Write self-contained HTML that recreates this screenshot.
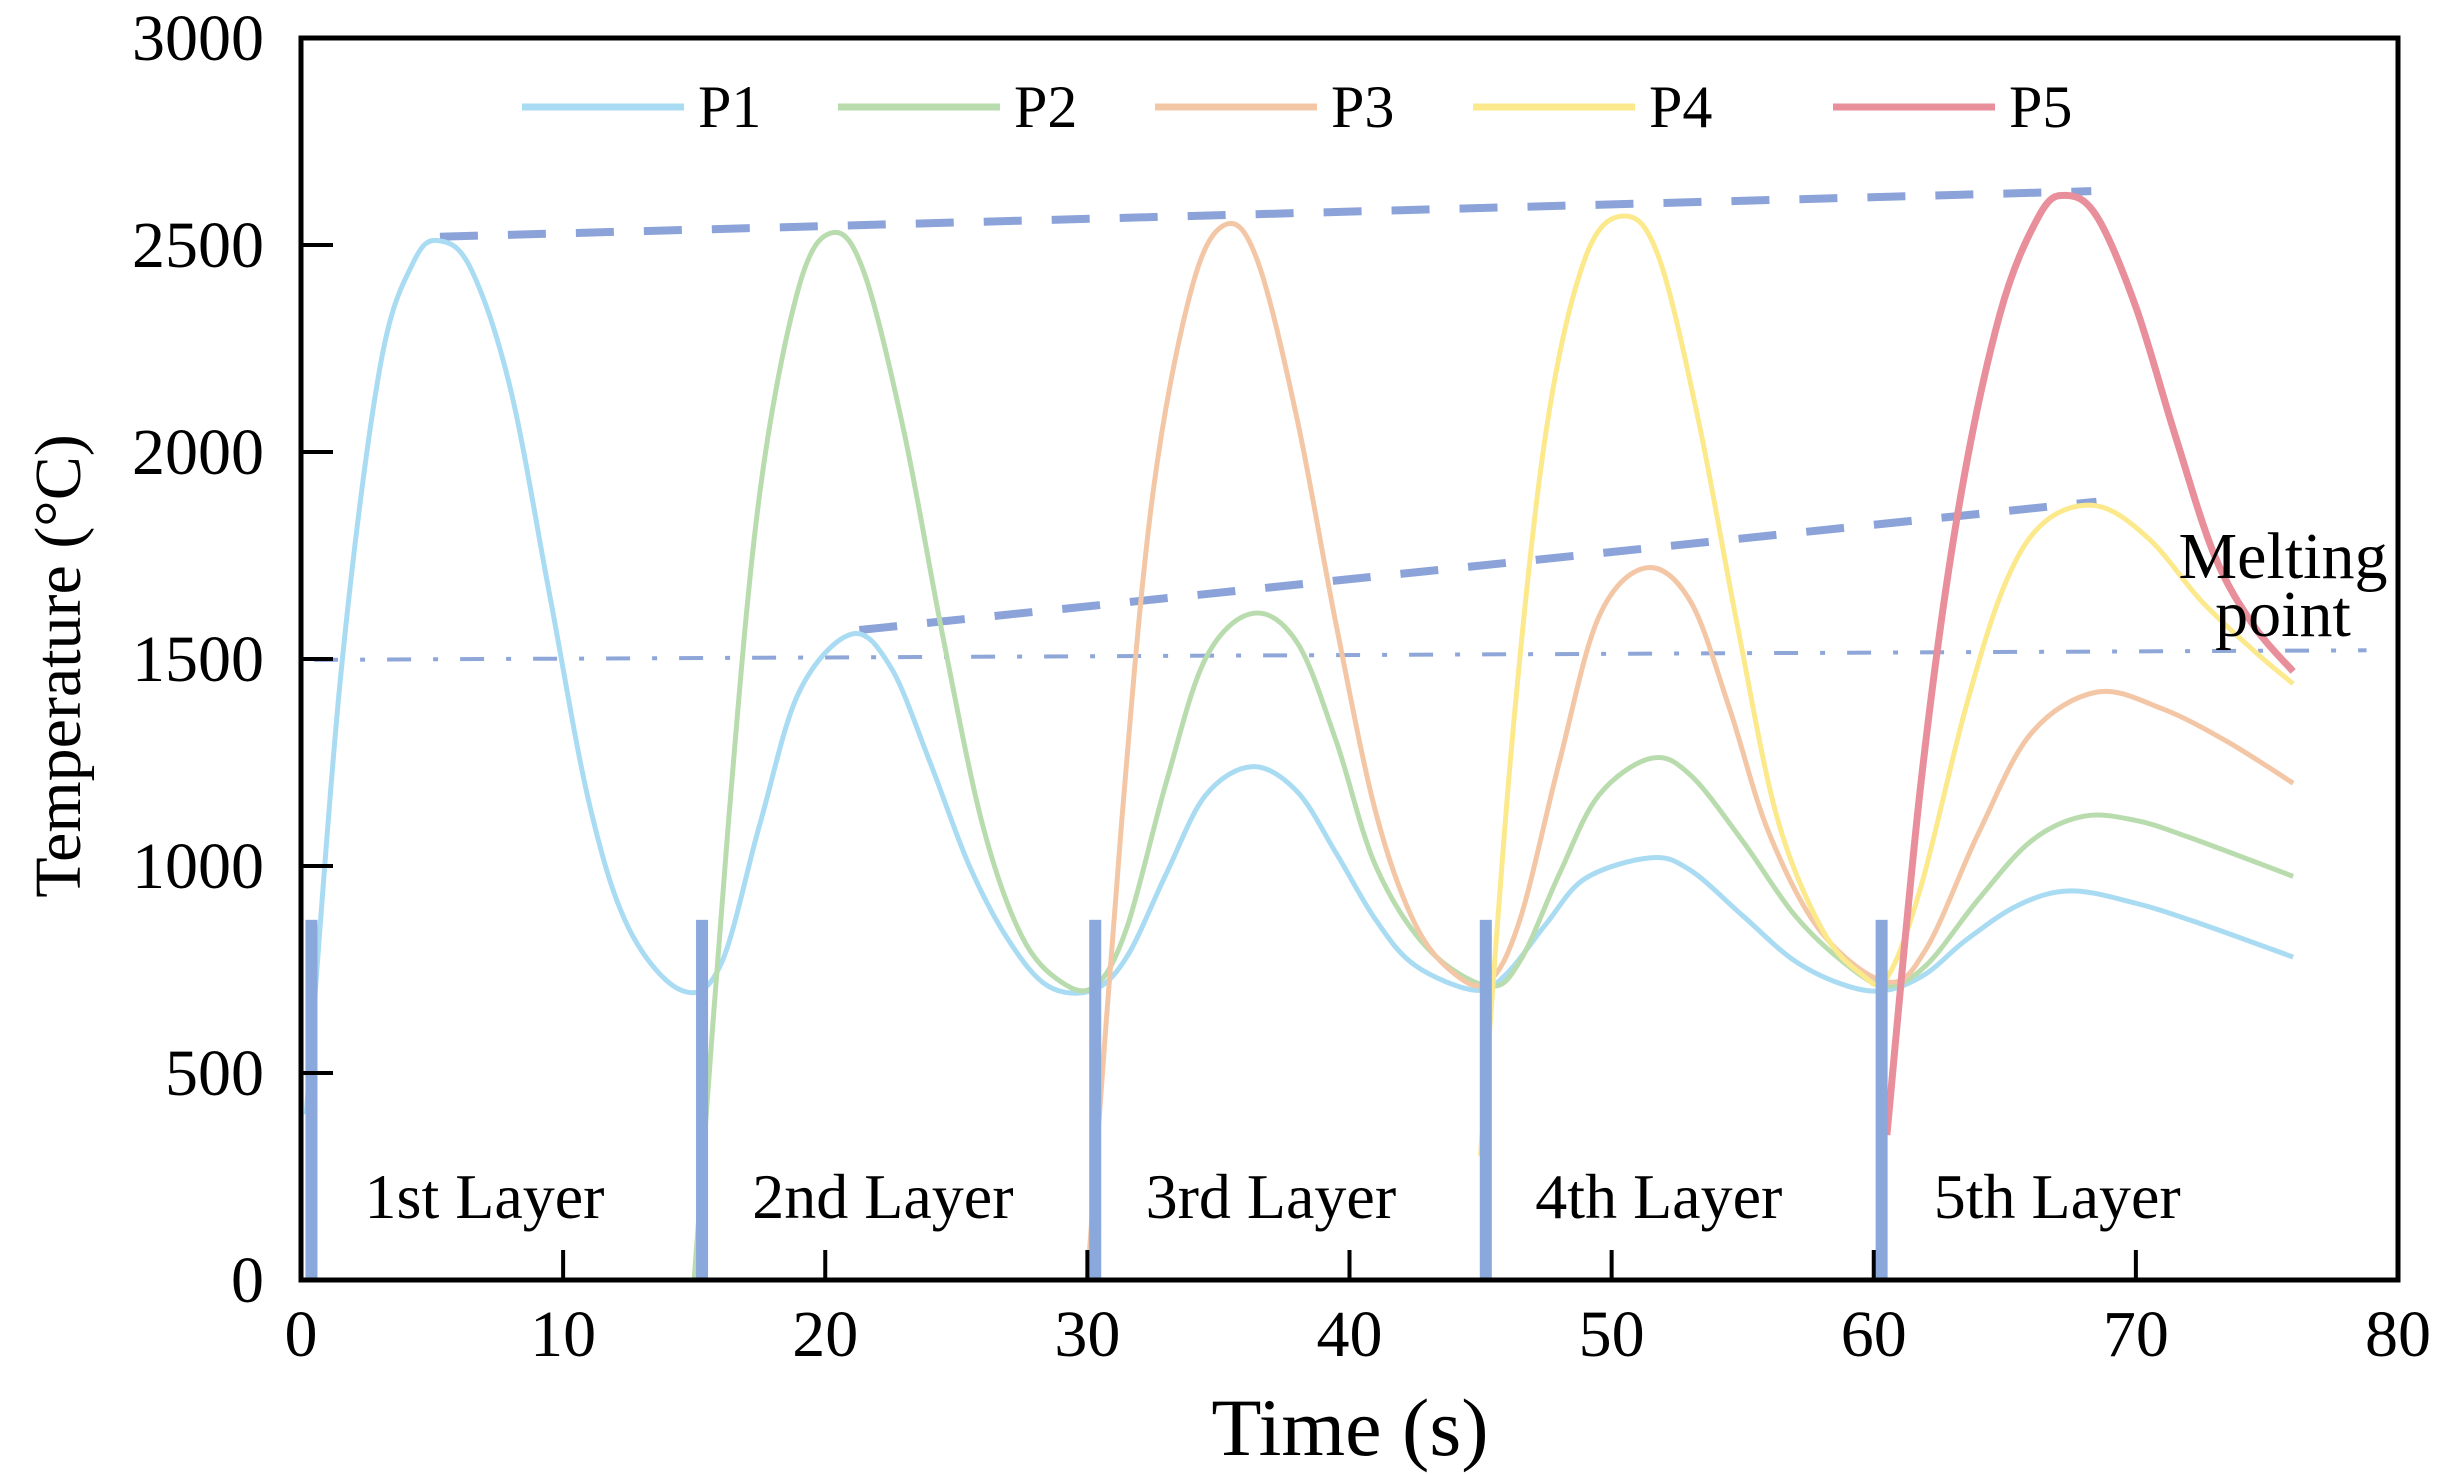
<!DOCTYPE html>
<html><head><meta charset="utf-8"><style>
html,body{margin:0;padding:0;background:#fff;}
svg{display:block;font-family:"Liberation Serif",serif;}
</style></head><body>
<svg id="chart" width="2451" height="1475" viewBox="0 0 2451 1475">
<g id="grid-layer"></g>
<g id="series-layer"></g>
<g id="axes-layer"></g>
</svg>
<script>
const xTicks=[0,10,20,30,40,50,60,70,80];
const yTicks=[0,500,1000,1500,2000,2500,3000];
const seriesNames=["P1","P2","P3","P4","P5"];
const seriesColors=["#a9dcf2","#b9dcae","#f3c7a6","#fbe98c","#e98f9c"];
const p1T=[0.2,1.5,3,4.3,5.3,6.5,8,9.5,11,12.5,14.5,16,17.5,19,21,22.5,24,25.5,27,28.5,30.2,31.5,33,34.5,36.3,38,39.5,41,42.5,44.8,46,47.5,49,51.5,53,55,57,59,60.5,62,63.5,65.5,67.5,70,72.5,76];
const p1V=[400,1450,2200,2460,2510,2440,2150,1650,1150,850,700,760,1100,1420,1560,1480,1250,1000,820,710,700,780,980,1170,1240,1180,1030,870,760,700,740,860,970,1020,990,880,770,710,700,740,820,905,940,910,860,780];
const p2T=[15,16.3,17.5,19,20.3,21.5,23,24.5,26,27.5,29,30.3,31.5,33,34.5,36.3,38,39.5,41,43,45.3,46.5,48,49.5,51.5,53,55,57,59,60.5,62,64,66,68,70,72,76];
const p2V=[0,1100,1900,2400,2530,2430,2050,1550,1100,830,720,710,850,1200,1500,1610,1540,1300,1000,800,710,770,980,1170,1260,1220,1060,880,760,710,760,920,1060,1120,1110,1070,975];
const p3T=[30,31.3,32.5,34,35.3,36.5,38,39.5,41,42.5,44,45.3,46.5,48,49.5,51.3,53,54.5,56,58,60.5,62,64,66,68.5,71,73.5,76];
const p3V=[0,1100,1900,2400,2550,2460,2080,1580,1130,860,740,720,870,1250,1600,1720,1640,1380,1080,840,720,800,1080,1320,1420,1380,1300,1200];
const p4T=[45,46.2,47.5,49,50.5,51.8,53.3,54.8,56.3,58,59.5,60.5,61.8,63.5,65,66.5,68.5,70.5,72.5,74.5,76];
const p4V=[300,1300,2050,2470,2570,2470,2080,1580,1120,850,740,730,950,1380,1680,1830,1870,1790,1640,1520,1440];
const p5T=[60.5,61.8,63.2,64.8,66.3,67.3,68.5,70,71.5,73,74.5,76];
const p5V=[350,1200,1850,2330,2570,2620,2570,2350,2040,1750,1580,1470];
const layerLabels=["1st Layer","2nd Layer","3rd Layer","4th Layer","5th Layer"];
const layerStarts=[0.4,15.3,30.3,45.2,60.3];
const layerLabelT=[7,22.2,37,51.8,67];
const layerBarTop=870;
const upperTrendT=[5.3,68.3], upperTrendV=[2520,2630];
const lowerTrendT=[21.3,68.5], lowerTrendV=[1570,1880];
const meltT=[0.5,78.8], meltV=[1498,1521];

const X0=301,X1=2398,Y0=1280,Y1=38;
const sx=t=>X0+(t-0)/(80-0)*(X1-X0);
const sy=v=>Y0-(v-0)/(3000-0)*(Y0-Y1);
const NS="http://www.w3.org/2000/svg";
function mk(tag,attrs,parent){const e=document.createElementNS(NS,tag);for(const k in attrs)e.setAttribute(k,attrs[k]);parent.appendChild(e);return e;}
const grid=document.getElementById('grid-layer'),ser=document.getElementById('series-layer'),ax=document.getElementById('axes-layer');

function smooth(ts,vs){
  const p=ts.map((t,i)=>[sx(t),sy(vs[i])]);
  let d="M"+p[0][0]+","+p[0][1];
  for(let i=0;i<p.length-1;i++){
    const a=p[i-1]||p[i],b=p[i],c=p[i+1],e=p[i+2]||c;
    const c1=[b[0]+(c[0]-a[0])/6,b[1]+(c[1]-a[1])/6],c2=[c[0]-(e[0]-b[0])/6,c[1]-(e[1]-b[1])/6];
    d+=" C"+c1[0]+","+c1[1]+" "+c2[0]+","+c2[1]+" "+c[0]+","+c[1];
  }
  return d;
}
let ln=mk('line',{x1:sx(meltT[0]),y1:sy(meltV[0]),x2:sx(meltT[1]),y2:sy(meltV[1]),stroke:"#8fa6d8","stroke-width":4,"stroke-dasharray":"24 22 5 22"},grid);


ln=mk('line',{x1:sx(upperTrendT[0]),y1:sy(upperTrendV[0]),x2:sx(upperTrendT[1]),y2:sy(upperTrendV[1]),stroke:"#8ba3d8","stroke-width":8,"stroke-dasharray":"38 30"},grid);


ln=mk('line',{x1:sx(lowerTrendT[0]),y1:sy(lowerTrendV[0]),x2:sx(lowerTrendT[1]),y2:sy(lowerTrendV[1]),stroke:"#8ba3d8","stroke-width":8,"stroke-dasharray":"38 30"},grid);



const allT=[p1T,p2T,p3T,p4T,p5T],allV=[p1V,p2V,p3V,p4V,p5V];
for(let i=0;i<5;i++){
  const path=mk('path',{d:smooth(allT[i],allV[i]),fill:"none",stroke:seriesColors[i],"stroke-width":i==4?7:5},ser);
  
  
}
for(let i=0;i<5;i++){
  const r=mk('rect',{x:sx(layerStarts[i])-6,y:sy(layerBarTop),width:12,height:sy(0)-sy(layerBarTop),fill:"#8aa8dc"},ser);
  
  
  const tx=mk('text',{x:sx(layerLabelT[i]),y:1218,"font-size":64,"text-anchor":"middle",fill:"#000"},ser);
  tx.textContent=layerLabels[i];
  
  
}
let mt=mk('text',{x:2283,y:578,"font-size":66,"text-anchor":"middle"},ser);mt.textContent="Melting";


mt=mk('text',{x:2283,y:636,"font-size":66,"text-anchor":"middle"},ser);mt.textContent="point";


const box=mk('rect',{x:X0,y:Y1,width:X1-X0,height:Y0-Y1,fill:"none",stroke:"#000","stroke-width":5},ax);


xTicks.forEach(t=>{
  if(t>0&&t<80){const l=mk('line',{x1:sx(t),y1:Y0,x2:sx(t),y2:Y0-30,stroke:"#000","stroke-width":4},ax);
  
  }
  const tx=mk('text',{x:sx(t),y:1356,"font-size":66,"text-anchor":"middle"},ax);tx.textContent=t;
  
  
});
yTicks.forEach(v=>{
  if(v>0&&v<3000){const l=mk('line',{x1:X0,y1:sy(v),x2:X0+32,y2:sy(v),stroke:"#000","stroke-width":4},ax);
  
  }
  const tx=mk('text',{x:264,y:sy(v)+22,"font-size":66,"text-anchor":"end"},ax);tx.textContent=v;
  
  
});
let at=mk('text',{x:1350,y:1455,"font-size":82,"text-anchor":"middle"},ax);at.textContent="Time (s)";


at=mk('text',{x:0,y:0,"font-size":66,"text-anchor":"middle",transform:"translate(80,666) rotate(-90)"},ax);at.textContent="Temperature (°C)";


const legX=[522,838,1155,1473,1833];
for(let i=0;i<5;i++){
  const g=mk('g',{},ax);
  
  
  mk('line',{x1:legX[i],y1:107,x2:legX[i]+162,y2:107,stroke:seriesColors[i],"stroke-width":7},g);
  const tx=mk('text',{x:legX[i]+176,y:127,"font-size":60},g);tx.textContent=seriesNames[i];
}
</script>
</body></html>
